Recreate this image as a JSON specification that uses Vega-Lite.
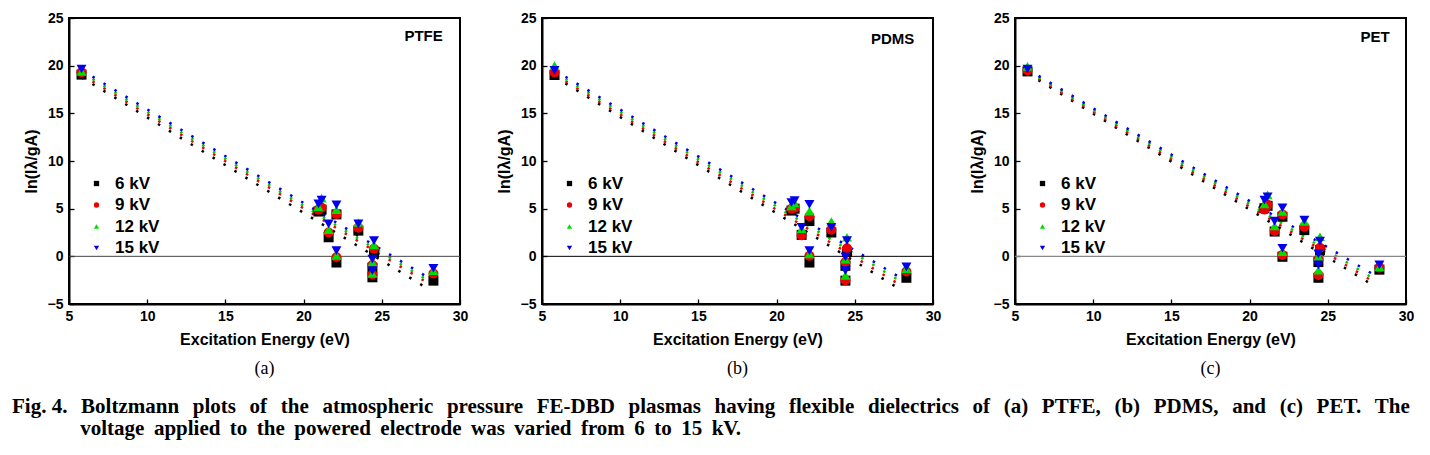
{
"$schema": "https://vega.github.io/schema/vega-lite/v6.json",
"padding": {"left": 12, "top": 10, "right": 5, "bottom": 5},
"bounds": "flush",
"spacing": 82,
"background": "white",
"title": {
  "text": ["Fig. 4. \u2009\u2009Boltzmann \u2009\u2009plots \u2009\u2009of \u2009\u2009the \u2009\u2009atmospheric \u2009\u2009pressure \u2009\u2009FE-DBD \u2009\u2009plasmas \u2009\u2009having \u2009\u2009flexible \u2009\u2009dielectrics \u2009\u2009of \u2009\u2009(a) \u2009\u2009PTFE, \u2009\u2009(b) \u2009\u2009PDMS, \u2009\u2009and \u2009\u2009(c) \u2009\u2009PET. \u2009\u2009The", "\u200b\u00a0\u00a0\u00a0\u00a0\u00a0\u00a0\u00a0\u00a0\u00a0\u00a0\u00a0\u00a0\u00a0voltage \u2009applied \u2009to \u2009the \u2009powered \u2009electrode \u2009was \u2009varied \u2009from \u20096 \u2009to \u200915 \u2009kV."],
  "orient": "bottom", "anchor": "start", "frame": "bounds", "dx": -10, "offset": 17,
  "font": "Liberation Serif", "fontSize": 21, "fontWeight": "bold", "color": "black", "lineHeight": 22
},
"datasets": {
  "fits": [
    {"p":"a","s":"6 kV","E":5.8,"v":18.78},{"p":"a","s":"6 kV","E":27.8,"v":-3.25},
    {"p":"a","s":"9 kV","E":5.8,"v":19.05},{"p":"a","s":"9 kV","E":27.8,"v":-2.66},
    {"p":"a","s":"12 kV","E":5.8,"v":19.29},{"p":"a","s":"12 kV","E":27.8,"v":-2.38},
    {"p":"a","s":"15 kV","E":5.8,"v":19.54},{"p":"a","s":"15 kV","E":27.8,"v":-2.06},
    {"p":"b","s":"6 kV","E":5.8,"v":18.85},{"p":"b","s":"6 kV","E":27.8,"v":-3.36},
    {"p":"b","s":"9 kV","E":5.8,"v":19.06},{"p":"b","s":"9 kV","E":27.8,"v":-2.9},
    {"p":"b","s":"12 kV","E":5.8,"v":19.3},{"p":"b","s":"12 kV","E":27.8,"v":-2.5},
    {"p":"b","s":"15 kV","E":5.8,"v":19.53},{"p":"b","s":"15 kV","E":27.8,"v":-2.13},
    {"p":"c","s":"6 kV","E":5.8,"v":19.19},{"p":"c","s":"6 kV","E":27.8,"v":-2.94},
    {"p":"c","s":"9 kV","E":5.8,"v":19.33},{"p":"c","s":"9 kV","E":27.8,"v":-2.55},
    {"p":"c","s":"12 kV","E":5.8,"v":19.48},{"p":"c","s":"12 kV","E":27.8,"v":-2.2},
    {"p":"c","s":"15 kV","E":5.8,"v":19.62},{"p":"c","s":"15 kV","E":27.8,"v":-1.79}
  ],
  "pts": [
    {"p":"a","s":"6 kV","E":5.8,"v":19.06},{"p":"a","s":"6 kV","E":20.95,"v":4.7},{"p":"a","s":"6 kV","E":21.15,"v":4.9},{"p":"a","s":"6 kV","E":21.6,"v":2.0},{"p":"a","s":"6 kV","E":22.1,"v":4.4},{"p":"a","s":"6 kV","E":22.1,"v":-0.65},{"p":"a","s":"6 kV","E":23.5,"v":2.7},{"p":"a","s":"6 kV","E":24.5,"v":0.4},{"p":"a","s":"6 kV","E":24.4,"v":-1.2},{"p":"a","s":"6 kV","E":24.4,"v":-2.2},{"p":"a","s":"6 kV","E":28.3,"v":-2.55},
    {"p":"a","s":"9 kV","E":5.8,"v":19.3},{"p":"a","s":"9 kV","E":20.95,"v":4.9},{"p":"a","s":"9 kV","E":21.15,"v":5.1},{"p":"a","s":"9 kV","E":21.6,"v":2.5},{"p":"a","s":"9 kV","E":22.1,"v":4.45},{"p":"a","s":"9 kV","E":22.1,"v":-0.1},{"p":"a","s":"9 kV","E":23.5,"v":3.0},{"p":"a","s":"9 kV","E":24.5,"v":0.8},{"p":"a","s":"9 kV","E":24.4,"v":-0.9},{"p":"a","s":"9 kV","E":24.4,"v":-1.9},{"p":"a","s":"9 kV","E":28.3,"v":-1.8},
    {"p":"a","s":"12 kV","E":5.8,"v":19.4},{"p":"a","s":"12 kV","E":20.95,"v":5.2},{"p":"a","s":"12 kV","E":21.15,"v":6.1},{"p":"a","s":"12 kV","E":21.6,"v":2.8},{"p":"a","s":"12 kV","E":22.1,"v":4.9},{"p":"a","s":"12 kV","E":22.1,"v":0.1},{"p":"a","s":"12 kV","E":23.5,"v":3.55},{"p":"a","s":"12 kV","E":24.5,"v":1.2},{"p":"a","s":"12 kV","E":24.4,"v":-0.6},{"p":"a","s":"12 kV","E":24.4,"v":-1.8},{"p":"a","s":"12 kV","E":28.3,"v":-1.5},
    {"p":"a","s":"15 kV","E":5.8,"v":19.65},{"p":"a","s":"15 kV","E":20.95,"v":5.5},{"p":"a","s":"15 kV","E":21.15,"v":5.9},{"p":"a","s":"15 kV","E":21.6,"v":3.4},{"p":"a","s":"15 kV","E":22.1,"v":5.4},{"p":"a","s":"15 kV","E":22.1,"v":0.6},{"p":"a","s":"15 kV","E":23.5,"v":3.4},{"p":"a","s":"15 kV","E":24.5,"v":1.65},{"p":"a","s":"15 kV","E":24.4,"v":-0.3},{"p":"a","s":"15 kV","E":24.4,"v":-1.5},{"p":"a","s":"15 kV","E":28.3,"v":-1.25},
    {"p":"b","s":"6 kV","E":5.8,"v":19.02},{"p":"b","s":"6 kV","E":20.95,"v":4.8},{"p":"b","s":"6 kV","E":21.15,"v":5.0},{"p":"b","s":"6 kV","E":21.6,"v":2.25},{"p":"b","s":"6 kV","E":22.1,"v":3.7},{"p":"b","s":"6 kV","E":22.1,"v":-0.65},{"p":"b","s":"6 kV","E":23.5,"v":2.5},{"p":"b","s":"6 kV","E":24.5,"v":0.45},{"p":"b","s":"6 kV","E":24.4,"v":-1.0},{"p":"b","s":"6 kV","E":24.4,"v":-2.55},{"p":"b","s":"6 kV","E":28.3,"v":-2.25},
    {"p":"b","s":"9 kV","E":5.8,"v":19.3},{"p":"b","s":"9 kV","E":20.95,"v":5.0},{"p":"b","s":"9 kV","E":21.15,"v":5.1},{"p":"b","s":"9 kV","E":21.6,"v":2.2},{"p":"b","s":"9 kV","E":22.1,"v":4.2},{"p":"b","s":"9 kV","E":22.1,"v":0.05},{"p":"b","s":"9 kV","E":23.5,"v":2.8},{"p":"b","s":"9 kV","E":24.5,"v":0.85},{"p":"b","s":"9 kV","E":24.4,"v":-0.6},{"p":"b","s":"9 kV","E":24.4,"v":-2.5},{"p":"b","s":"9 kV","E":28.3,"v":-1.6},
    {"p":"b","s":"12 kV","E":5.8,"v":20.0},{"p":"b","s":"12 kV","E":20.95,"v":5.3},{"p":"b","s":"12 kV","E":21.15,"v":5.6},{"p":"b","s":"12 kV","E":21.6,"v":2.9},{"p":"b","s":"12 kV","E":22.1,"v":4.75},{"p":"b","s":"12 kV","E":22.1,"v":0.25},{"p":"b","s":"12 kV","E":23.5,"v":3.65},{"p":"b","s":"12 kV","E":24.5,"v":2.0},{"p":"b","s":"12 kV","E":24.4,"v":-0.3},{"p":"b","s":"12 kV","E":24.4,"v":-2.0},{"p":"b","s":"12 kV","E":28.3,"v":-1.3},
    {"p":"b","s":"15 kV","E":5.8,"v":19.5},{"p":"b","s":"15 kV","E":20.95,"v":5.65},{"p":"b","s":"15 kV","E":21.15,"v":5.85},{"p":"b","s":"15 kV","E":21.6,"v":3.05},{"p":"b","s":"15 kV","E":22.1,"v":5.45},{"p":"b","s":"15 kV","E":22.1,"v":0.6},{"p":"b","s":"15 kV","E":23.5,"v":3.05},{"p":"b","s":"15 kV","E":24.5,"v":1.65},{"p":"b","s":"15 kV","E":24.4,"v":-0.05},{"p":"b","s":"15 kV","E":24.4,"v":-1.5},{"p":"b","s":"15 kV","E":28.3,"v":-1.1},
    {"p":"c","s":"6 kV","E":5.8,"v":19.4},{"p":"c","s":"6 kV","E":20.95,"v":5.05},{"p":"c","s":"6 kV","E":21.15,"v":5.3},{"p":"c","s":"6 kV","E":21.6,"v":2.6},{"p":"c","s":"6 kV","E":22.1,"v":4.15},{"p":"c","s":"6 kV","E":22.1,"v":-0.05},{"p":"c","s":"6 kV","E":23.5,"v":2.75},{"p":"c","s":"6 kV","E":24.5,"v":0.65},{"p":"c","s":"6 kV","E":24.4,"v":-0.6},{"p":"c","s":"6 kV","E":24.4,"v":-2.25},{"p":"c","s":"6 kV","E":28.3,"v":-1.4},
    {"p":"c","s":"9 kV","E":5.8,"v":19.5},{"p":"c","s":"9 kV","E":20.95,"v":4.9},{"p":"c","s":"9 kV","E":21.15,"v":5.4},{"p":"c","s":"9 kV","E":21.6,"v":2.65},{"p":"c","s":"9 kV","E":22.1,"v":4.4},{"p":"c","s":"9 kV","E":22.1,"v":0.15},{"p":"c","s":"9 kV","E":23.5,"v":3.1},{"p":"c","s":"9 kV","E":24.5,"v":0.9},{"p":"c","s":"9 kV","E":24.4,"v":-0.3},{"p":"c","s":"9 kV","E":24.4,"v":-1.95},{"p":"c","s":"9 kV","E":28.3,"v":-1.2},
    {"p":"c","s":"12 kV","E":5.8,"v":19.93},{"p":"c","s":"12 kV","E":20.95,"v":5.5},{"p":"c","s":"12 kV","E":21.15,"v":6.45},{"p":"c","s":"12 kV","E":21.6,"v":3.2},{"p":"c","s":"12 kV","E":22.1,"v":4.7},{"p":"c","s":"12 kV","E":22.1,"v":0.5},{"p":"c","s":"12 kV","E":23.5,"v":3.65},{"p":"c","s":"12 kV","E":24.5,"v":2.05},{"p":"c","s":"12 kV","E":24.4,"v":0.0},{"p":"c","s":"12 kV","E":24.4,"v":-1.45},{"p":"c","s":"12 kV","E":28.3,"v":-1.1},
    {"p":"c","s":"15 kV","E":5.8,"v":19.65},{"p":"c","s":"15 kV","E":20.95,"v":5.9},{"p":"c","s":"15 kV","E":21.15,"v":6.25},{"p":"c","s":"15 kV","E":21.6,"v":3.7},{"p":"c","s":"15 kV","E":22.1,"v":5.1},{"p":"c","s":"15 kV","E":22.1,"v":0.85},{"p":"c","s":"15 kV","E":23.5,"v":3.8},{"p":"c","s":"15 kV","E":24.5,"v":1.6},{"p":"c","s":"15 kV","E":24.4,"v":0.25},{"p":"c","s":"15 kV","E":24.4,"v":-0.9},{"p":"c","s":"15 kV","E":28.3,"v":-0.9}
  ],
  "labels": [
    {"p":"a","name":"PTFE","E":28.9,"v":23.1},
    {"p":"b","name":"PDMS","E":28.8,"v":22.8},
    {"p":"c","name":"PET","E":28.95,"v":23.0}
  ],
  "zero": [{"p":"a","v":0},{"p":"b","v":0},{"p":"c","v":0}]
},
"resolve": {
  "scale": {"color": "independent", "shape": "independent"},
  "legend": {"color": "independent", "shape": "independent"}
},
"hconcat": [
  {
    "width": 391, "height": 286,
    "title": {"text": "(a)", "orient": "bottom", "font": "Liberation Serif", "fontSize": 18, "fontWeight": "normal", "offset": 13, "color": "black"},
    "layer": [
      {"data": {"name": "fits"}, "transform": [{"filter": "datum.p === 'a'"}],
       "mark": {"type": "line", "strokeWidth": 2.5, "strokeDash": [2.5, 10.3], "strokeCap": "butt"},
       "encoding": {
         "x": {"field": "E", "type": "quantitative", "scale": {"domain": [5, 30], "nice": false},
               "axis": {"title": "Excitation Energy (eV)", "values": [5,7.5,10,12.5,15,17.5,20,22.5,25,27.5,30], "labelExpr": "datum.value % 5 === 0 ? datum.label : ''", "tickSize": {"condition": {"test": "datum.value % 5 === 0", "value": -5}, "value": -3}, "labelPadding": 10, "labelFlush": false, "labelOverlap": false, "titlePadding": 8}},
         "y": {"field": "v", "type": "quantitative", "scale": {"domain": [-5, 25], "nice": false},
               "axis": {"title": "ln(Iλ/gA)", "values": [-5,-2.5,0,2.5,5,7.5,10,12.5,15,17.5,20,22.5,25], "labelExpr": "datum.value % 5 === 0 ? datum.label : ''", "tickSize": {"condition": {"test": "datum.value % 5 === 0", "value": -5}, "value": -3}, "labelPadding": 11, "labelFlush": false, "labelOverlap": false, "titlePadding": 8}},
         "detail": {"field": "s", "type": "nominal"},
         "stroke": {"condition": [{"test": "datum.s === '6 kV'", "value": "#000000"}, {"test": "datum.s === '9 kV'", "value": "#ee0000"}, {"test": "datum.s === '12 kV'", "value": "#00cc00"}], "value": "#0000ee"}
       }},
      {"data": {"name": "zero"}, "transform": [{"filter": "datum.p === 'a'"}],
       "mark": {"type": "rule", "color": "#444444", "strokeWidth": 1}, "encoding": {"y": {"field": "v", "type": "quantitative"}}},
      {"data": {"name": "pts"}, "transform": [{"filter": "datum.p === 'a'"}],
       "mark": {"type": "point", "filled": true, "size": 100, "opacity": 1},
       "encoding": {
         "x": {"field": "E", "type": "quantitative"},
         "y": {"field": "v", "type": "quantitative"},
         "color": {"field": "s", "type": "nominal", "scale": {"domain": ["6 kV","9 kV","12 kV","15 kV"], "range": ["#000000","#ee0000","#00dd00","#0000ee"]}, "legend": {"orient": "none", "legendX": 19, "legendY": 157, "title": null}},
         "shape": {"field": "s", "type": "nominal", "scale": {"domain": ["6 kV","9 kV","12 kV","15 kV"], "range": ["square","circle","triangle-up","triangle-down"]}, "legend": {"orient": "none", "legendX": 19, "legendY": 157, "title": null}}
       }},
      {"data": {"name": "labels"}, "transform": [{"filter": "datum.p === 'a'"}],
       "mark": {"type": "text", "align": "right", "baseline": "middle", "font": "Liberation Sans", "fontWeight": "bold", "fontSize": 15, "color": "black"},
       "encoding": {"x": {"field": "E", "type": "quantitative"}, "y": {"field": "v", "type": "quantitative"}, "text": {"field": "name"}}}
    ]
  },
  {
    "width": 391, "height": 286,
    "title": {"text": "(b)", "orient": "bottom", "font": "Liberation Serif", "fontSize": 18, "fontWeight": "normal", "offset": 13, "color": "black"},
    "layer": [
      {"data": {"name": "fits"}, "transform": [{"filter": "datum.p === 'b'"}],
       "mark": {"type": "line", "strokeWidth": 2.5, "strokeDash": [2.5, 10.3], "strokeCap": "butt"},
       "encoding": {
         "x": {"field": "E", "type": "quantitative", "scale": {"domain": [5, 30], "nice": false},
               "axis": {"title": "Excitation Energy (eV)", "values": [5,7.5,10,12.5,15,17.5,20,22.5,25,27.5,30], "labelExpr": "datum.value % 5 === 0 ? datum.label : ''", "tickSize": {"condition": {"test": "datum.value % 5 === 0", "value": -5}, "value": -3}, "labelPadding": 10, "labelFlush": false, "labelOverlap": false, "titlePadding": 8}},
         "y": {"field": "v", "type": "quantitative", "scale": {"domain": [-5, 25], "nice": false},
               "axis": {"title": "ln(Iλ/gA)", "values": [-5,-2.5,0,2.5,5,7.5,10,12.5,15,17.5,20,22.5,25], "labelExpr": "datum.value % 5 === 0 ? datum.label : ''", "tickSize": {"condition": {"test": "datum.value % 5 === 0", "value": -5}, "value": -3}, "labelPadding": 11, "labelFlush": false, "labelOverlap": false, "titlePadding": 8}},
         "detail": {"field": "s", "type": "nominal"},
         "stroke": {"condition": [{"test": "datum.s === '6 kV'", "value": "#000000"}, {"test": "datum.s === '9 kV'", "value": "#ee0000"}, {"test": "datum.s === '12 kV'", "value": "#00cc00"}], "value": "#0000ee"}
       }},
      {"data": {"name": "zero"}, "transform": [{"filter": "datum.p === 'b'"}],
       "mark": {"type": "rule", "color": "#000000", "strokeWidth": 1}, "encoding": {"y": {"field": "v", "type": "quantitative"}}},
      {"data": {"name": "pts"}, "transform": [{"filter": "datum.p === 'b'"}],
       "mark": {"type": "point", "filled": true, "size": 100, "opacity": 1},
       "encoding": {
         "x": {"field": "E", "type": "quantitative"},
         "y": {"field": "v", "type": "quantitative"},
         "color": {"field": "s", "type": "nominal", "scale": {"domain": ["6 kV","9 kV","12 kV","15 kV"], "range": ["#000000","#ee0000","#00dd00","#0000ee"]}, "legend": {"orient": "none", "legendX": 19, "legendY": 157, "title": null}},
         "shape": {"field": "s", "type": "nominal", "scale": {"domain": ["6 kV","9 kV","12 kV","15 kV"], "range": ["square","circle","triangle-up","triangle-down"]}, "legend": {"orient": "none", "legendX": 19, "legendY": 157, "title": null}}
       }},
      {"data": {"name": "labels"}, "transform": [{"filter": "datum.p === 'b'"}],
       "mark": {"type": "text", "align": "right", "baseline": "middle", "font": "Liberation Sans", "fontWeight": "bold", "fontSize": 15, "color": "black"},
       "encoding": {"x": {"field": "E", "type": "quantitative"}, "y": {"field": "v", "type": "quantitative"}, "text": {"field": "name"}}}
    ]
  },
  {
    "width": 391, "height": 286,
    "title": {"text": "(c)", "orient": "bottom", "font": "Liberation Serif", "fontSize": 18, "fontWeight": "normal", "offset": 13, "color": "black"},
    "layer": [
      {"data": {"name": "fits"}, "transform": [{"filter": "datum.p === 'c'"}],
       "mark": {"type": "line", "strokeWidth": 2.5, "strokeDash": [2.5, 10.3], "strokeCap": "butt"},
       "encoding": {
         "x": {"field": "E", "type": "quantitative", "scale": {"domain": [5, 30], "nice": false},
               "axis": {"title": "Excitation Energy (eV)", "values": [5,7.5,10,12.5,15,17.5,20,22.5,25,27.5,30], "labelExpr": "datum.value % 5 === 0 ? datum.label : ''", "tickSize": {"condition": {"test": "datum.value % 5 === 0", "value": -5}, "value": -3}, "labelPadding": 10, "labelFlush": false, "labelOverlap": false, "titlePadding": 8}},
         "y": {"field": "v", "type": "quantitative", "scale": {"domain": [-5, 25], "nice": false},
               "axis": {"title": "ln(Iλ/gA)", "values": [-5,-2.5,0,2.5,5,7.5,10,12.5,15,17.5,20,22.5,25], "labelExpr": "datum.value % 5 === 0 ? datum.label : ''", "tickSize": {"condition": {"test": "datum.value % 5 === 0", "value": -5}, "value": -3}, "labelPadding": 11, "labelFlush": false, "labelOverlap": false, "titlePadding": 8}},
         "detail": {"field": "s", "type": "nominal"},
         "stroke": {"condition": [{"test": "datum.s === '6 kV'", "value": "#000000"}, {"test": "datum.s === '9 kV'", "value": "#ee0000"}, {"test": "datum.s === '12 kV'", "value": "#00cc00"}], "value": "#0000ee"}
       }},
      {"data": {"name": "zero"}, "transform": [{"filter": "datum.p === 'c'"}],
       "mark": {"type": "rule", "color": "#888888", "strokeWidth": 1.2}, "encoding": {"y": {"field": "v", "type": "quantitative"}}},
      {"data": {"name": "pts"}, "transform": [{"filter": "datum.p === 'c'"}],
       "mark": {"type": "point", "filled": true, "size": 100, "opacity": 1},
       "encoding": {
         "x": {"field": "E", "type": "quantitative"},
         "y": {"field": "v", "type": "quantitative"},
         "color": {"field": "s", "type": "nominal", "scale": {"domain": ["6 kV","9 kV","12 kV","15 kV"], "range": ["#000000","#ee0000","#00dd00","#0000ee"]}, "legend": {"orient": "none", "legendX": 19, "legendY": 157, "title": null}},
         "shape": {"field": "s", "type": "nominal", "scale": {"domain": ["6 kV","9 kV","12 kV","15 kV"], "range": ["square","circle","triangle-up","triangle-down"]}, "legend": {"orient": "none", "legendX": 19, "legendY": 157, "title": null}}
       }},
      {"data": {"name": "labels"}, "transform": [{"filter": "datum.p === 'c'"}],
       "mark": {"type": "text", "align": "right", "baseline": "middle", "font": "Liberation Sans", "fontWeight": "bold", "fontSize": 15, "color": "black"},
       "encoding": {"x": {"field": "E", "type": "quantitative"}, "y": {"field": "v", "type": "quantitative"}, "text": {"field": "name"}}}
    ]
  }
],
"config": {
  "view": {"stroke": "black", "strokeWidth": 2},
  "axis": {"grid": false, "domainColor": "black", "domainWidth": 2, "tickColor": "black", "tickWidth": 1.3,
           "labelFont": "Liberation Sans", "labelFontWeight": "bold", "labelFontSize": 14, "labelColor": "black",
           "titleFont": "Liberation Sans", "titleFontWeight": "bold", "titleFontSize": 16, "titleColor": "black"},
  "legend": {"labelFont": "Liberation Sans", "labelFontWeight": "bold", "labelFontSize": 17, "labelColor": "black",
             "symbolSize": 28, "rowPadding": 3.5, "labelOffset": 10, "padding": 0, "symbolStrokeWidth": 0}
}
}
